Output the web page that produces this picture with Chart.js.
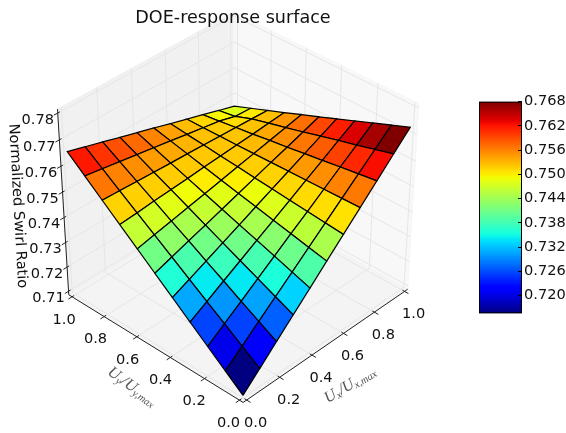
<!DOCTYPE html>
<html>
<head>
  <meta charset="UTF-8">
  <title>DOE-response surface</title>
  <script src="https://cdn.jsdelivr.net/npm/chart.js@4/dist/chart.umd.min.js"></script>
  <style>
    html, body { margin: 0; padding: 0; background: #fff; }
    #surface { position: absolute; left: 0; top: 0; }
    #colorbar { position: absolute; left: 479px; top: 90px; }
  </style>
</head>
<body>
  <canvas id="surface" width="566" height="433"></canvas>
  <canvas id="colorbar" width="87" height="235"></canvas>
  <script>
    var gridX = [0, 0.1, 0.2, 0.3, 0.4, 0.5, 0.6, 0.7, 0.8, 0.9, 1];
    var gridY = [0, 0.1, 0.2, 0.3, 0.4, 0.5, 0.6, 0.7, 0.8, 0.9, 1];
    // one row per gridY value
    var swirl = [
      [0.7095, 0.7158, 0.7222, 0.7285, 0.7348, 0.7412, 0.7475, 0.7538, 0.7601, 0.7665, 0.7728],
      [0.7151, 0.7206, 0.7261, 0.7316, 0.7371, 0.7426, 0.7481, 0.7536, 0.7591, 0.7646, 0.7701],
      [0.7207, 0.7254, 0.7300, 0.7347, 0.7394, 0.7441, 0.7487, 0.7534, 0.7581, 0.7627, 0.7674],
      [0.7263, 0.7301, 0.7340, 0.7378, 0.7417, 0.7455, 0.7493, 0.7532, 0.7570, 0.7609, 0.7647],
      [0.7319, 0.7349, 0.7379, 0.7409, 0.7439, 0.7470, 0.7500, 0.7530, 0.7560, 0.7590, 0.7620],
      [0.7375, 0.7397, 0.7419, 0.7440, 0.7462, 0.7484, 0.7506, 0.7528, 0.7549, 0.7571, 0.7593],
      [0.7431, 0.7445, 0.7458, 0.7472, 0.7485, 0.7499, 0.7513, 0.7526, 0.7540, 0.7553, 0.7567],
      [0.7487, 0.7492, 0.7498, 0.7503, 0.7508, 0.7514, 0.7519, 0.7524, 0.7529, 0.7535, 0.7540],
      [0.7543, 0.7540, 0.7537, 0.7534, 0.7531, 0.7529, 0.7526, 0.7523, 0.7520, 0.7517, 0.7514],
      [0.7599, 0.7588, 0.7577, 0.7566, 0.7555, 0.7544, 0.7532, 0.7521, 0.7510, 0.7492, 0.7488],
      [0.7655, 0.7636, 0.7617, 0.7597, 0.7578, 0.7559, 0.7539, 0.7520, 0.7501, 0.7481, 0.7462]
    ];
    var xTicks = [0, 0.2, 0.4, 0.6, 0.8, 1];
    var yTicks = [0, 0.2, 0.4, 0.6, 0.8, 1];
    var zTicks = [0.71, 0.72, 0.73, 0.74, 0.75, 0.76, 0.77, 0.78];
    var barTicks = [0.720, 0.726, 0.732, 0.738, 0.744, 0.750, 0.756, 0.762, 0.768];

    var colorMin = 0.7156, colorMax = 0.768;
    var zMin = 0.71, zMax = 0.78;
    var pad = 1 / 48; // panes stick out past the limits a little

    // view of the 3d box
    var elev = 38 * Math.PI / 180, azim = -136.5 * Math.PI / 180, dist = 10;

    function project(wx, wy, wz) {
      var px = wx - 0.5, py = wy - 0.5, pz = wz - 0.5;
      var ce = Math.cos(elev), se = Math.sin(elev), ca = Math.cos(azim), sa = Math.sin(azim);
      var w = dist - (ce * ca * px + ce * sa * py + se * pz);
      return {
        x: (-sa * px + ca * py) / w,
        y: (-se * ca * px - se * sa * py + ce * pz) / w
      };
    }
    function worldZ(v) { return (v - zMin) / (zMax - zMin); }

    function interp(stops, t) {
      for (var i = 1; i < stops.length; i++) {
        if (t <= stops[i][0]) {
          var a = stops[i - 1], b = stops[i];
          return a[1] + (b[1] - a[1]) * (t - a[0]) / (b[0] - a[0]);
        }
      }
      return stops[stops.length - 1][1];
    }
    var jetR = [[0, 0], [0.35, 0], [0.66, 1], [0.89, 1], [1, 0.5]];
    var jetG = [[0, 0], [0.125, 0], [0.375, 1], [0.64, 1], [0.91, 0], [1, 0]];
    var jetB = [[0, 0.5], [0.11, 1], [0.34, 1], [0.65, 0], [1, 0]];
    function jet(v) {
      var t = Math.min(1, Math.max(0, (v - colorMin) / (colorMax - colorMin)));
      return 'rgb(' + Math.round(255 * interp(jetR, t)) + ',' + Math.round(255 * interp(jetG, t)) + ',' + Math.round(255 * interp(jetB, t)) + ')';
    }

    // datasets are pushed back to front, then reversed since chart.js draws the first one last
    var sets = [];
    function addPath(pts, color, width, fill) {
      sets.push({
        data: pts.map(function (p) { return project(p[0], p[1], p[2]); }),
        borderColor: color,
        borderWidth: width,
        backgroundColor: fill || 'transparent',
        fill: fill ? 'shape' : false,
        pointRadius: 0,
        tension: 0,
        clip: false
      });
    }

    var lo = -pad, hi = 1 + pad;
    // panes
    addPath([[lo, hi, lo], [hi, hi, lo], [hi, hi, hi], [lo, hi, hi], [lo, hi, lo]], '#f0f0f0', 1, '#f1f1f1');
    addPath([[hi, lo, lo], [hi, hi, lo], [hi, hi, hi], [hi, lo, hi], [hi, lo, lo]], '#f6f6f6', 1, '#f8f8f8');
    addPath([[lo, lo, lo], [hi, lo, lo], [hi, hi, lo], [lo, hi, lo], [lo, lo, lo]], '#f3f3f3', 1, '#f4f4f4');
    // grid lines on the panes
    var gridColor = '#e6e6e6';
    xTicks.forEach(function (t) {
      addPath([[t, lo, lo], [t, hi, lo], [t, hi, hi]], gridColor, 1);
    });
    yTicks.forEach(function (t) {
      addPath([[lo, t, lo], [hi, t, lo], [hi, t, hi]], gridColor, 1);
    });
    zTicks.forEach(function (t) {
      var z = worldZ(t);
      addPath([[lo, hi, z], [hi, hi, z], [hi, lo, z]], gridColor, 1);
    });
    // axis lines and tick marks
    var axisColor = '#222';
    addPath([[lo, lo, lo], [hi, lo, lo]], axisColor, 1);
    addPath([[lo, lo, lo], [lo, hi, lo]], axisColor, 1);
    addPath([[lo, hi, lo], [lo, hi, hi]], axisColor, 1);
    xTicks.forEach(function (t) {
      addPath([[t, lo + 0.012, lo], [t, lo - 0.022, lo]], axisColor, 1);
    });
    yTicks.forEach(function (t) {
      addPath([[lo + 0.012, t, lo], [lo - 0.022, t, lo]], axisColor, 1);
    });
    zTicks.forEach(function (t) {
      addPath([[lo + 0.012, hi, worldZ(t)], [lo - 0.022, hi, worldZ(t)]], axisColor, 1);
    });
    // surface cells, far corner first
    for (var j = gridY.length - 2; j >= 0; j--) {
      for (var i = gridX.length - 2; i >= 0; i--) {
        var mean = (swirl[j][i] + swirl[j][i + 1] + swirl[j + 1][i] + swirl[j + 1][i + 1]) / 4;
        addPath([
          [gridX[i], gridY[j], worldZ(swirl[j][i])],
          [gridX[i + 1], gridY[j], worldZ(swirl[j][i + 1])],
          [gridX[i + 1], gridY[j + 1], worldZ(swirl[j + 1][i + 1])],
          [gridX[i], gridY[j + 1], worldZ(swirl[j + 1][i])],
          [gridX[i], gridY[j], worldZ(swirl[j][i])]
        ], '#000', 1.2, jet(mean));
      }
    }
    sets.reverse();

    function drawMath(ctx, cx, cy, angle, runs) {
      ctx.save();
      ctx.translate(cx, cy);
      ctx.rotate(angle * Math.PI / 180);
      ctx.fillStyle = '#555';
      ctx.textAlign = 'left';
      ctx.textBaseline = 'middle';
      var total = 0;
      runs.forEach(function (r) {
        ctx.font = 'italic ' + (r.sub ? 10.5 : 16) + 'px "Liberation Serif"';
        total += ctx.measureText(r.t).width;
      });
      var pos = -total / 2;
      runs.forEach(function (r) {
        ctx.font = 'italic ' + (r.sub ? 10.5 : 16) + 'px "Liberation Serif"';
        ctx.fillText(r.t, pos, r.sub ? 3.5 : 0);
        pos += ctx.measureText(r.t).width;
      });
      ctx.restore();
    }

    var surfaceText = {
      id: 'surfaceText',
      afterDraw: function (chart) {
        var ctx = chart.ctx, sx = chart.scales.x, sy = chart.scales.y;
        function label(text, p, dx, dy) {
          ctx.fillText(text, sx.getPixelForValue(p.x) + dx, sy.getPixelForValue(p.y) + dy);
        }
        ctx.save();
        ctx.fillStyle = '#111';
        ctx.textAlign = 'center';
        ctx.textBaseline = 'middle';
        ctx.font = '17.6px "DejaVu Sans"';
        ctx.fillText('DOE-response surface', 233, 18.5);
        ctx.font = '14.6px "DejaVu Sans"';
        xTicks.forEach(function (t) {
          label(t.toFixed(1), project(t, lo, lo), 9, 23);
        });
        yTicks.forEach(function (t) {
          label(t.toFixed(1), project(lo, t, lo), -11 + 3 * t, 23);
        });
        zTicks.forEach(function (t) {
          label(t.toFixed(2), project(lo, hi, worldZ(t)), -20, 7);
        });
        ctx.save();
        ctx.translate(17.5, 206);
        ctx.rotate(86.9 * Math.PI / 180);
        ctx.fillText('Normalized Swirl Ratio', 0, 0);
        ctx.restore();
        ctx.restore();
        drawMath(ctx, 132, 387, 36, [
          { t: 'U' }, { t: 'y', sub: true }, { t: '/' }, { t: 'U' }, { t: 'y,max', sub: true }
        ]);
        drawMath(ctx, 350, 385, -31, [
          { t: 'U' }, { t: 'x', sub: true }, { t: '/' }, { t: 'U' }, { t: 'x,max', sub: true }
        ]);
      }
    };

    new Chart(document.getElementById('surface'), {
      type: 'line',
      data: { datasets: sets },
      options: {
        responsive: false,
        animation: false,
        events: [],
        layout: { padding: 0 },
        plugins: { legend: { display: false }, tooltip: { enabled: false } },
        scales: {
          x: { type: 'linear', display: false, min: -0.1004, max: 0.1379 },
          y: { type: 'linear', display: false, min: -0.10221, max: 0.08955 }
        }
      },
      plugins: [surfaceText]
    });

    // colorbar: a stack of thin floating bars on a real value axis
    var bandCount = 200;
    var bands = [];
    for (var b = 0; b < bandCount; b++) {
      var v0 = colorMin + (colorMax - colorMin) * b / bandCount;
      var v1 = colorMin + (colorMax - colorMin) * (b + 1.5) / bandCount;
      bands.push({
        data: [[v0, Math.min(v1, colorMax)]],
        backgroundColor: jet(colorMin + (colorMax - colorMin) * (b + 0.5) / bandCount),
        borderWidth: 0
      });
    }
    bands.reverse();

    var barFrame = {
      id: 'barFrame',
      afterDatasetsDraw: function (chart) {
        var a = chart.chartArea, ctx = chart.ctx;
        ctx.save();
        ctx.strokeStyle = '#000';
        ctx.lineWidth = 1;
        ctx.strokeRect(a.left + 0.5, a.top + 0.5, a.right - a.left - 1, a.bottom - a.top - 1);
        ctx.restore();
      }
    };

    new Chart(document.getElementById('colorbar'), {
      type: 'bar',
      data: { labels: [''], datasets: bands },
      options: {
        responsive: false,
        animation: false,
        events: [],
        grouped: false,
        barPercentage: 1,
        categoryPercentage: 1,
        layout: { padding: { top: 11.7, bottom: 11.7, left: 0, right: 0 } },
        plugins: { legend: { display: false }, tooltip: { enabled: false } },
        scales: {
          x: { display: false },
          y: {
            position: 'right',
            min: colorMin,
            max: colorMax,
            border: { display: false },
            grid: { drawOnChartArea: false, tickLength: -4, color: '#000', z: 1 },
            ticks: {
              padding: 6,
              color: '#111',
              font: { family: 'DejaVu Sans', size: 14.6 },
              callback: function (v) { return v.toFixed(3); }
            },
            afterBuildTicks: function (scale) {
              scale.ticks = barTicks.map(function (v) { return { value: v }; });
            },
            afterFit: function (scale) {
              scale.width = 44;
              scale.paddingTop = 0;
              scale.paddingBottom = 0;
            }
          }
        }
      },
      plugins: [barFrame]
    });
  </script>
</body>
</html>
